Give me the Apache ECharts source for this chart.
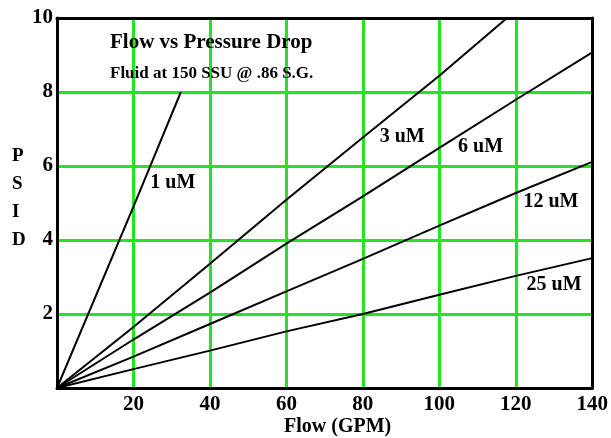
<!DOCTYPE html>
<html><head><meta charset="utf-8">
<script src="https://cdn.jsdelivr.net/npm/echarts@6/dist/echarts.min.js"></script>
<style>html,body{margin:0;padding:0;background:#fff}#c{width:611px;height:438px}</style>
</head><body><div id="c"></div>
<script>
const FONT = '"Liberation Serif", "Times New Roman", serif';
const xTicks = [20, 40, 60, 80, 100, 120, 140];
const yTicks = [2, 4, 6, 8, 10];
const um1 = [[0, 0], [20, 4.9], [32.4, 8]];
const um3 = [[0, 0], [20, 1.65], [40, 3.36], [60, 5.09], [80, 6.77], [100, 8.44], [117.7, 10]];
const um6 = [[0, 0], [20, 1.31], [40, 2.58], [60, 3.9], [80, 5.18], [100, 6.49], [120, 7.79], [140, 9.07]];
const um12 = [[0, 0], [20, 0.85], [40, 1.73], [60, 2.61], [80, 3.49], [100, 4.39], [120, 5.27], [140, 6.11]];
const um25 = [[0, 0], [20, 0.51], [40, 1.01], [60, 1.53], [80, 2.0], [100, 2.52], [120, 3.03], [140, 3.51]];
const seriesNames = ['1 uM', '3 uM', '6 uM', '12 uM', '25 uM'];
const labelPos = [[30.3, 5.55], [90.3, 6.79], [110.8, 6.52], [129.2, 5.04], [130, 2.80]];

const chart = echarts.init(document.getElementById('c'), null, {renderer: 'canvas'});
const GREEN = '#22e622';
const lineSeries = [um1, um3, um6, um12, um25].map((d, i) => ({
  type: 'line', name: seriesNames[i], data: d, showSymbol: false, symbol: 'none',
  lineStyle: {color: '#000', width: 2}, z: 5, silent: true, animation: false
}));
const frameAxis = {
  type: 'value', axisLine: {show: true, onZero: false, lineStyle: {color: '#000', width: 3}},
  axisTick: {show: false}, axisLabel: {show: false}, splitLine: {show: false}, z: 3
};
chart.setOption({
  animation: false,
  title: {
    text: 'Flow vs Pressure Drop', subtext: 'Fluid at 150 SSU @ .86 S.G.',
    left: 105, top: 27, itemGap: 12,
    textStyle: {fontFamily: FONT, fontWeight: 'bold', fontSize: 21, color: '#000'},
    subtextStyle: {fontFamily: FONT, fontWeight: 'bold', fontSize: 17, color: '#000'}
  },
  grid: {left: 57, right: 18, top: 18, bottom: 50, show: false, containLabel: false},
  xAxis: [{
    type: 'value', min: 0, max: 140, interval: 20, position: 'bottom',
    axisLine: {show: true, onZero: false, lineStyle: {color: '#000', width: 3}},
    axisTick: {show: false},
    axisLabel: {fontFamily: FONT, fontWeight: 'bold', fontSize: 21, color: '#000', margin: 6,
      formatter: v => xTicks.includes(v) ? String(v) : ''},
    splitLine: {show: true, lineStyle: {color: GREEN, width: 3}}, z: 1
  }, Object.assign({}, frameAxis, {min: 0, max: 140, interval: 20, position: 'top'})],
  yAxis: [{
    type: 'value', min: 0, max: 10, interval: 2, position: 'left',
    axisLine: {show: true, onZero: false, lineStyle: {color: '#000', width: 3}},
    axisTick: {show: false},
    axisLabel: {fontFamily: FONT, fontWeight: 'bold', fontSize: 21, color: '#000', margin: 4,
      formatter: v => yTicks.includes(v) ? String(v) : ''},
    splitLine: {show: true, lineStyle: {color: GREEN, width: 3}}, z: 1
  }, Object.assign({}, frameAxis, {min: 0, max: 10, interval: 2, position: 'right'})],
  graphic: [
    {type: 'text', left: 12, top: 142, z: 10, style: {text: 'P\nS\nI\nD', font: 'bold 19px ' + FONT, fill: '#000', lineHeight: 28, align: 'center'}},
    {type: 'text', left: 284, top: 417, style: {text: 'Flow (GPM)', font: 'bold 20px ' + FONT, fill: '#000'}, z: 10}
  ],
  series: lineSeries.concat([{
    type: 'scatter', symbolSize: 0, silent: true, z: 6,
    itemStyle: {opacity: 1, color: '#000'},
    data: labelPos.map((p, i) => ({value: p, name: seriesNames[i]})),
    label: {show: true, position: 'inside', formatter: p => p.name, opacity: 1,
      fontFamily: FONT, fontWeight: 'bold', fontSize: 20, color: '#000', textBorderWidth: 0}
  }])
});
</script></body></html>
